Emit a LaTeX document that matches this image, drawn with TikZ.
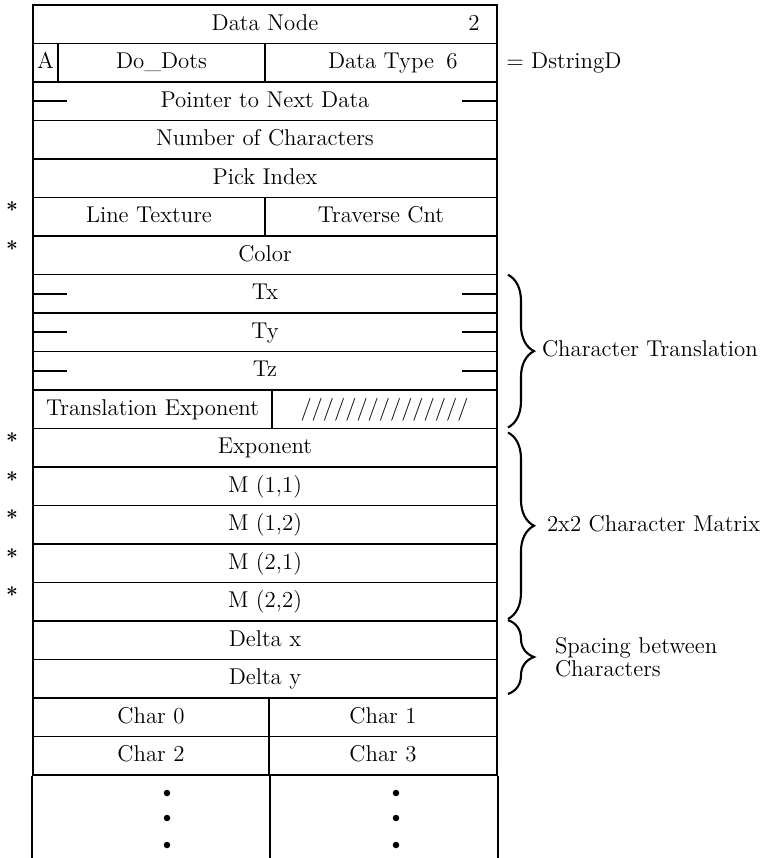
\documentclass[tikz,border=0pt]{standalone}
\usepackage{tikz}
\usetikzlibrary{decorations.pathreplacing, calc}

\begin{document}
\begin{tikzpicture}[x=0.2mm, y=-0.2mm, font=\fontsize{13}{15}\selectfont,
  cell/.style={draw, line width=1.1pt, minimum height=7.7mm, inner sep=0pt, text height=3.2mm, text depth=0.9mm},
  fullcell/.style={cell, minimum width=92.8mm},
  lbl/.style={inner sep=0pt, text height=3.2mm, text depth=0.9mm},
  cbrace/.style={decorate, decoration={brace, amplitude=5.2mm}, line width=1.2pt}]
  % ----- Page frame -----
  \useasboundingbox (0,0) rectangle (775,858);

  % ----- Header rows -----
  \node[fullcell] (dnode) at (265,24.25) {Data Node};
  \node[lbl] (dnodenum) at (474,24.25) {2};
  \node[cell, minimum width=5mm] (aflag) at (45.5,62.75) {A};
  \node[cell, minimum width=41.4mm] (dodots) at (161.5,62.75) {Do\_Dots};
  \node[cell, minimum width=46.4mm] (dtype) at (381,62.75) {Data Type};
  \node[lbl] (dtypenum) at (452,62.75) {6};
  \node[lbl, anchor=west] (dstr) at ($(dtype.east)+(8,0)$) {= DstringD};
  \node[fullcell] (ptr) at (265,101.25) {Pointer to Next Data};
  \node[fullcell] (nchar) at (265,139.75) {Number of Characters};
  \node[fullcell] (pick) at (265,178.25) {Pick Index};
  \node[cell, minimum width=46.4mm] (lt) at (149,216.75) {Line Texture};
  \node[cell, minimum width=46.4mm] (trav) at (381,216.75) {Traverse Cnt};
  \node[fullcell] (col) at (265,255.25) {Color};

  % ----- Translation -----
  \node[fullcell] (tx) at (265,293.75) {Tx};
  \node[fullcell] (ty) at (265,332.25) {Ty};
  \node[fullcell] (tz) at (265,370.75) {Tz};
  \node[cell, minimum width=47.8mm] (texp) at (152.5,409.25) {Translation Exponent};
  \node[cell, minimum width=45mm] (tslash) at (384.5,409.25) {///////////////};

  % ----- Matrix and spacing -----
  \node[fullcell] (exp) at (265,447.75) {Exponent};
  \node[fullcell] (m11) at (265,486.25) {M (1,1)};
  \node[fullcell] (m12) at (265,524.75) {M (1,2)};
  \node[fullcell] (m21) at (265,563.25) {M (2,1)};
  \node[fullcell] (m22) at (265,601.75) {M (2,2)};
  \node[fullcell] (dx) at (265,640.25) {Delta x};
  \node[fullcell] (dy) at (265,678.75) {Delta y};

  % ----- Characters -----
  \node[cell, minimum width=47.2mm] (c0) at (151,717.25) {Char 0};
  \node[cell, minimum width=45.6mm] (c1) at (383,717.25) {Char 1};
  \node[cell, minimum width=47.2mm] (c2) at (151,755.75) {Char 2};
  \node[cell, minimum width=45.6mm] (c3) at (383,755.75) {Char 3};
  \draw[line width=1.1pt] (c2.south west) -- ++(0,83) (c2.south east) -- ++(0,83) (c3.south east) -- ++(0,83);
  \foreach \yy in {793,818,845} {
    \fill (167,\yy) circle (0.65mm);
    \fill (396,\yy) circle (0.65mm);
  }

  % ----- Pointer ticks and marks -----
  \foreach \r in {ptr,tx,ty,tz} {
    \draw[line width=1.1pt] (\r.west) -- ++(35,0);
    \draw[line width=1.1pt] (\r.east) -- ++(-36,0);
  }
  \foreach \r in {lt,col,exp,m11,m12,m21,m22}
    \node[inner sep=0pt, font=\fontsize{12}{12}\selectfont\bfseries] (star-\r) at ($(\r.west)+(-20,-7)$) {*};

  % ----- Braces -----
  \draw[cbrace] ($(tx.north east)+(10,1.25)$) -- ($(tslash.south east)+(10,-2)$)
    node[lbl, midway, anchor=west, xshift=6.6mm] (trlbl) {Character Translation};
  \draw[cbrace] ($(exp.north east)+(10,5)$) -- ($(m22.south east)+(10,-3)$)
    node[lbl, midway, anchor=west, xshift=7.6mm] (mxlbl) {2x2 Character Matrix};
  \draw[cbrace] ($(dx.north east)+(10,0)$) -- ($(dy.south east)+(10,-5)$)
    node[midway, anchor=west, xshift=9.2mm, inner sep=0pt, align=left, font=\fontsize{13}{13}\selectfont] (splbl) {Spacing between\\Characters};
\end{tikzpicture}
\end{document}
